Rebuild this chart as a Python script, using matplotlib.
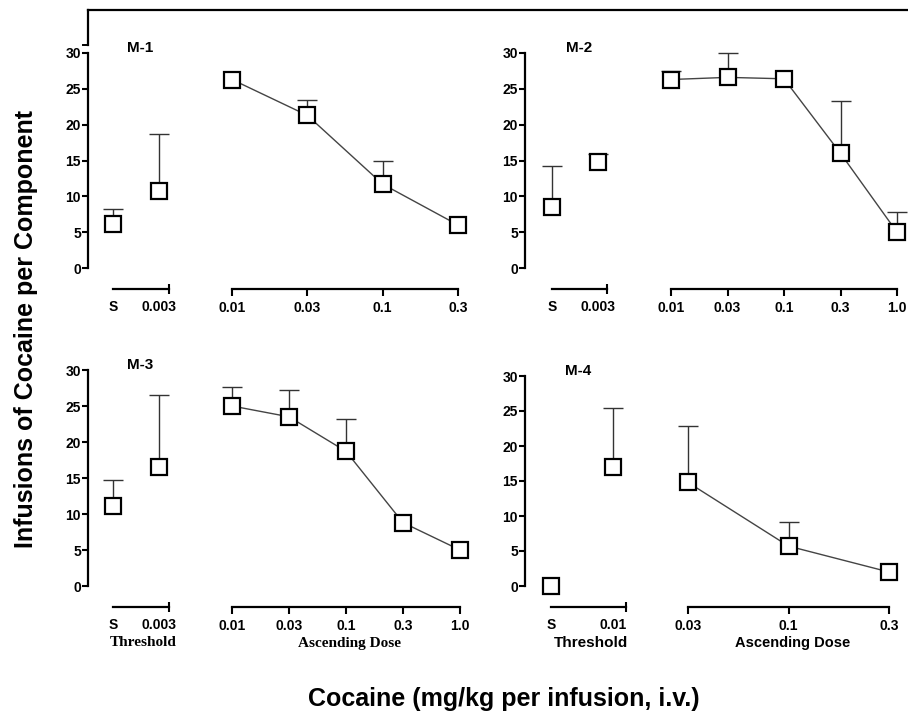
import matplotlib.pyplot as plt
from matplotlib.lines import Line2D

plt.rcParams['font.family'] = ['Liberation Sans', 'DejaVu Sans']
plt.rcParams['font.weight'] = 'bold'

W, H = 908, 717

# data per monkey: threshold (S, threshold dose) and ascending doses
names = ['M-1', 'M-2', 'M-3', 'M-4']
thr_labels = [['S', '0.003'], ['S', '0.003'], ['S', '0.003'], ['S', '0.01']]
thr_vals = [[6.2, 10.8], [8.5, 14.8], [11.1, 16.5], [0.0, 17.0]]
thr_err = [[2.0, 7.9], [5.8, 1.1], [3.6, 10.0], [0.0, 8.4]]

asc_labels = [['0.01', '0.03', '0.1', '0.3'],
              ['0.01', '0.03', '0.1', '0.3', '1.0'],
              ['0.01', '0.03', '0.1', '0.3', '1.0'],
              ['0.03', '0.1', '0.3']]
asc_vals = [[26.3, 21.3, 11.7, 6.0],
            [26.3, 26.6, 26.4, 16.0, 5.0],
            [25.0, 23.5, 18.7, 8.8, 5.0],
            [14.8, 5.7, 2.0]]
asc_err = [[0.0, 2.1, 3.3, 0.0],
           [1.2, 3.4, 0.0, 7.3, 2.8],
           [2.6, 3.7, 4.5, 0.0, 0.0],
           [8.1, 3.4, 0.0]]

# pixel layout: spine x, S x, dose x, end x, first asc x, last asc x, y30, y0
layout = [
    (88, 113, 159, 169, 232, 458, 53, 268),
    (525, 552, 598, 607, 671, 897, 53, 268),
    (88, 113, 159, 169, 232, 460, 370, 586),
    (525, 551, 613, 626, 688, 889, 376, 586),
]
label_font = [None, None, 'serif', 'sans']

fig = plt.figure(figsize=(W / 100, H / 100), dpi=100)


def fr(x0, y_top, x1, y_bot):
    return [x0 / W, 1 - y_bot / H, (x1 - x0) / W, (y_bot - y_top) / H]


def draw_points(ax, xs, ys, errs, line):
    ex = [x for x, e in zip(xs, errs) if e > 0]
    lo = [y for y, e in zip(ys, errs) if e > 0]
    hi = [y + e for y, e in zip(ys, errs) if e > 0]
    ax.vlines(ex, lo, hi, color='#333333', lw=1.0, zorder=2, clip_on=False)
    ax.plot(ex, hi, ls='none', marker='_', ms=14, mew=1.0, color='#333333',
            zorder=2, clip_on=False)
    if line:
        ax.plot(xs, ys, color='#444444', lw=1.0, zorder=3, clip_on=False)
    ax.plot(xs, ys, 's', ms=11.5, mfc='white', mec='black', mew=1.6,
            zorder=4, clip_on=False, ls='none')


tick_kw = dict(labelsize=10, width=1.5, colors='black')

for i in range(4):
    sp, xs, xd, xe, xa0, xa1, y30, y0 = layout[i]
    unit = xd - xs
    # threshold axes (carries the y axis)
    ax = fig.add_axes(fr(sp, y30, xe, y0))
    ax.set_xlim((sp - xs) / unit, (xe - xs) / unit)
    ax.set_ylim(0, 30)
    for s in ['top', 'right']:
        ax.spines[s].set_visible(False)
    ax.spines['left'].set_linewidth(1.6)
    ax.spines['bottom'].set_linewidth(1.6)
    ax.spines['bottom'].set_position(('outward', 15))
    ax.spines['bottom'].set_bounds(0, (xe - xs) / unit)
    ax.set_yticks([0, 5, 10, 15, 20, 25, 30])
    ax.tick_params(axis='y', direction='out', length=4, pad=1, **tick_kw)
    ax.set_xticks([0, 1])
    ax.set_xticklabels(thr_labels[i], fontweight='bold')
    ax.tick_params(axis='x', which='major', length=0, pad=8, **tick_kw)
    ax.set_xticks([0, (xe - xs) / unit], minor=True)
    ax.tick_params(axis='x', which='minor', direction='inout', length=7, width=1.5)
    for lab in ax.get_yticklabels():
        lab.set_fontweight('bold')
    ax.patch.set_alpha(0)
    draw_points(ax, [0, 1], thr_vals[i], thr_err[i], False)
    fig.text((xs + 14) / W, 1 - (y30 - 5) / H, names[i], fontsize=11,
             fontweight='bold', va='center', ha='left')

    # ascending dose axes
    n = len(asc_vals[i])
    ax2 = fig.add_axes(fr(xa0, y30, xa1, y0))
    ax2.set_xlim(0, n - 1)
    ax2.set_ylim(0, 30)
    for s in ['top', 'right', 'left']:
        ax2.spines[s].set_visible(False)
    ax2.spines['bottom'].set_linewidth(1.6)
    ax2.spines['bottom'].set_position(('outward', 15))
    ax2.set_yticks([])
    ax2.set_xticks(range(n))
    ax2.set_xticklabels(asc_labels[i], fontweight='bold')
    ax2.tick_params(axis='x', direction='out', length=5, pad=4, **tick_kw)
    ax2.patch.set_alpha(0)
    draw_points(ax2, list(range(n)), asc_vals[i], asc_err[i], True)

    # section labels under the bottom row
    if label_font[i] is not None:
        fam = ['Liberation Serif'] if label_font[i] == 'serif' else ['Liberation Sans']
        ty = 1 - 643 / H
        fig.text(((xs + xe) / 2 + 2) / W, ty, 'Threshold', family=fam,
                 fontsize=11, fontweight='bold', ha='center', va='center')
        fig.text(((xa0 + xa1) / 2 + 4) / W, ty, 'Ascending Dose', family=fam,
                 fontsize=11 if label_font[i] == 'serif' else 10.5,
                 fontweight='bold', ha='center', va='center')

# frame line at the top of the figure
fig.add_artist(Line2D([88 / W, 1.0], [1 - 10 / H, 1 - 10 / H], color='black', lw=1.6))
fig.add_artist(Line2D([88 / W, 88 / W], [1 - 10 / H, 1 - 45 / H], color='black', lw=1.6))
fig.add_artist(Line2D([83 / W, 88 / W], [1 - 45 / H, 1 - 45 / H], color='black', lw=1.4))

fig.text(26 / W, 1 - 329 / H, 'Infusions of Cocaine per Component', rotation=90,
         fontsize=18, fontweight='bold', ha='center', va='center')
fig.text(504 / W, 1 - 699 / H, 'Cocaine (mg/kg per infusion, i.v.)',
         fontsize=18, fontweight='bold', ha='center', va='center')

fig.savefig('out.png', dpi=100, facecolor='white')
